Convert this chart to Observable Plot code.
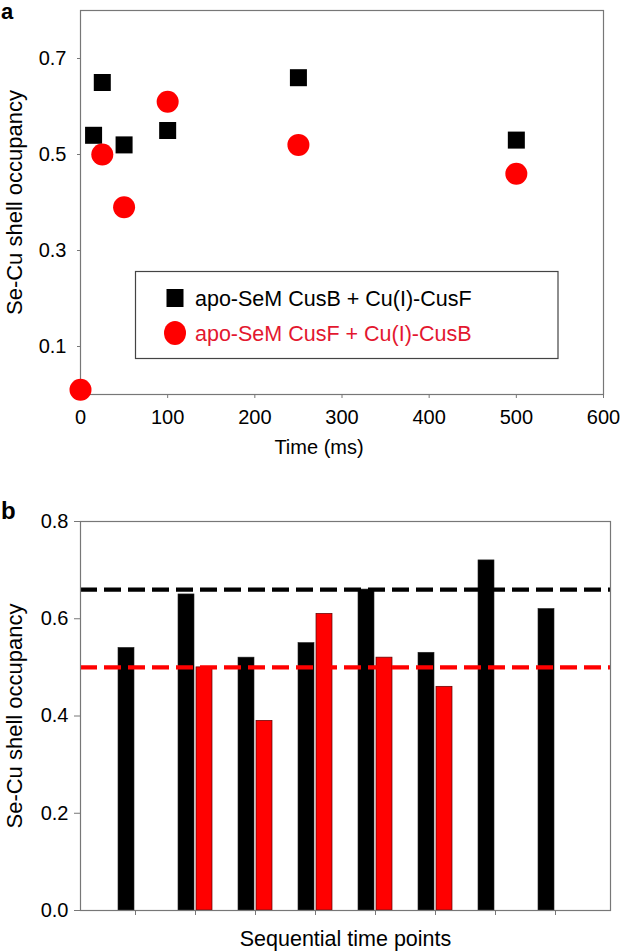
<!DOCTYPE html>
<html>
<head>
<meta charset="utf-8">
<script src="https://cdn.jsdelivr.net/npm/d3@7"></script>
<script src="https://cdn.jsdelivr.net/npm/@observablehq/plot@0.6"></script>
<style>
  html, body { margin: 0; padding: 0; background: #fff; }
  body { font-family: "Liberation Sans", Arial, Helvetica, sans-serif; }
  #wrap { position: relative; width: 622px; height: 951px; overflow: hidden; }
  .panel { position: absolute; left: 0; }
  .plabel { position: absolute; font-weight: bold; font-size: 24px; line-height: 1; color: #000; }
</style>
</head>
<body>
<div id="wrap">
  <div class="panel" id="pa" style="top:0px"></div>
  <div class="panel" id="pb" style="top:460px"></div>
  <div class="plabel" style="left:1px; top:499px">b</div>
</div>
<script>
// ---------- Panel a data ----------
const seriesNames = ["apo-SeM CusB + Cu(I)-CusF", "apo-SeM CusF + Cu(I)-CusB"];
const timeBlack = [15, 25, 50, 100, 250, 500];
const occBlack  = [0.54, 0.65, 0.52, 0.55, 0.66, 0.53];
const timeRed   = [0, 25, 50, 100, 250, 500];
const occRed    = [0.01, 0.50, 0.39, 0.61, 0.52, 0.46];
const xTicksA = [0, 100, 200, 300, 400, 500, 600];
const yTicksA = [0.1, 0.3, 0.5, 0.7];

// ---------- Panel b data ----------
const timePoints = ["1", "2", "3", "4", "5", "6", "7", "8"];
const barBlack = [0.54, 0.65, 0.52, 0.55, 0.66, 0.53, 0.72, 0.62];
const barRed   = [null, 0.50, 0.39, 0.61, 0.52, 0.46, null, null];
const meanBlack = [0.66];
const meanRed   = [0.50];
const yTicksB = [0.0, 0.2, 0.4, 0.6, 0.8];

const FONT = "'Liberation Sans', Arial, Helvetica, sans-serif";
const RED = "#ff0000";

const ptsBlack = timeBlack.map((t, i) => ({t, v: occBlack[i]}));
const ptsRed = timeRed.map((t, i) => ({t, v: occRed[i]}));

const plotA = Plot.plot({
  width: 622, height: 460,
  marginLeft: 80, marginRight: 19, marginTop: 10, marginBottom: 66,
  style: {fontFamily: FONT, fontSize: "20px", background: "transparent", color: "#000", overflow: "visible"},
  x: {domain: [0, 600]},
  y: {domain: [0, 0.8]},
  marks: [
    Plot.frame({stroke: "#777", strokeWidth: 1.2}),
    Plot.axisX({ticks: xTicksA, tickSize: 4, tickPadding: 11, stroke: "#777", fill: "#000", label: null, fontSize: 20}),
    Plot.axisY({ticks: yTicksA, tickSize: 3, tickPadding: 11, tickFormat: ".1f", stroke: "#777", fill: "#000", label: null, fontSize: 20}),
    Plot.dot(ptsBlack, {x: "t", y: "v", symbol: "square", r: 9.6, fill: "#000", stroke: "none"}),
    Plot.dot(ptsRed, {x: "t", y: "v", symbol: "circle", r: 11, fill: RED, stroke: "none"}),
    Plot.text(["Time (ms)"], {frameAnchor: "bottom", textAnchor: "middle", lineAnchor: "middle", dx: -23, dy: 53, fontSize: 20, fill: "#000"}),
    Plot.text(["Se-Cu shell occupancy"], {frameAnchor: "left", textAnchor: "middle", lineAnchor: "middle", dx: -66, rotate: -90, fontSize: 22, fill: "#000"})
  ]
});
document.getElementById("pa").appendChild(plotA);

{
  const svg = d3.select(plotA);
  // panel label
  svg.append("text").attr("x", 1).attr("y", 19).attr("text-anchor", "start")
    .attr("font-size", 22).attr("font-weight", "bold").attr("font-family", FONT).attr("fill", "#000").text("a");
  // legend for panel a (inside plot area)
  const g = svg.append("g").attr("class", "legend").attr("text-anchor", "start");
  const lx = 135.5, ly = 271.5, lw = 422.5, lh = 87;
  g.append("rect").attr("x", lx).attr("y", ly).attr("width", lw).attr("height", lh)
    .attr("fill", "#fff").attr("stroke", "#444").attr("stroke-width", 1.2);
  const rows = [
    {name: seriesNames[0], sym: "square", fill: "#000", text: "#000", cy: 298},
    {name: seriesNames[1], sym: "circle", fill: RED, text: "#e3172f", cy: 333}
  ];
  rows.forEach(r => {
    if (r.sym === "square") {
      g.append("rect").attr("x", 175 - 8.5).attr("y", r.cy - 9).attr("width", 17).attr("height", 18).attr("fill", r.fill);
    } else {
      g.append("ellipse").attr("cx", 175).attr("cy", r.cy).attr("rx", 11).attr("ry", 12).attr("fill", r.fill);
    }
    g.append("text").attr("x", 195).attr("y", r.cy).attr("dy", "0.36em").attr("text-anchor", "start")
      .attr("font-size", 21.5).attr("font-family", FONT).attr("fill", r.text).text(r.name);
  });
}

// ---------- Panel b ----------
const barsBlack = timePoints.map((p, i) => ({p, v: barBlack[i]})).filter(d => d.v != null);
const barsRed = timePoints.map((p, i) => ({p, v: barRed[i]})).filter(d => d.v != null);

const plotB = Plot.plot({
  width: 622, height: 491,
  marginLeft: 80, marginRight: 12, marginTop: 61, marginBottom: 41,
  style: {fontFamily: FONT, fontSize: "20px", background: "transparent", color: "#000", overflow: "visible"},
  x: {type: "band", domain: timePoints, paddingInner: 0.436, paddingOuter: 0.614},
  y: {domain: [0, 0.8]},
  marks: [
    Plot.barY(barsBlack, {x: "p", y: "v", fill: "#000", stroke: "#222", strokeWidth: 0.6, insetRight: 18}),
    Plot.barY(barsRed, {x: "p", y: "v", fill: RED, stroke: "#5a0000", strokeWidth: 0.7, insetLeft: 18}),
    Plot.ruleY(meanBlack, {stroke: "#000", strokeWidth: 4.2, strokeDasharray: "17,7"}),
    Plot.ruleY(meanRed, {stroke: RED, strokeWidth: 4.2, strokeDasharray: "17,7"}),
    Plot.frame({stroke: "#777", strokeWidth: 1.2}),
    Plot.axisX({tickSize: 5, tickFormat: () => "", stroke: "#777", label: null}),
    Plot.axisY({ticks: yTicksB, tickSize: 6, tickPadding: 6, tickFormat: ".1f", stroke: "#777", fill: "#000", label: null, fontSize: 20}),
    Plot.text(["Sequential time points"], {frameAnchor: "bottom", textAnchor: "middle", lineAnchor: "middle", dy: 29, fontSize: 21.5, fill: "#000"}),
    Plot.text(["Se-Cu shell occupancy"], {frameAnchor: "left", textAnchor: "middle", lineAnchor: "middle", dx: -66, rotate: -90, fontSize: 22, fill: "#000"})
  ]
});
document.getElementById("pb").appendChild(plotB);
</script>
</body>
</html>
